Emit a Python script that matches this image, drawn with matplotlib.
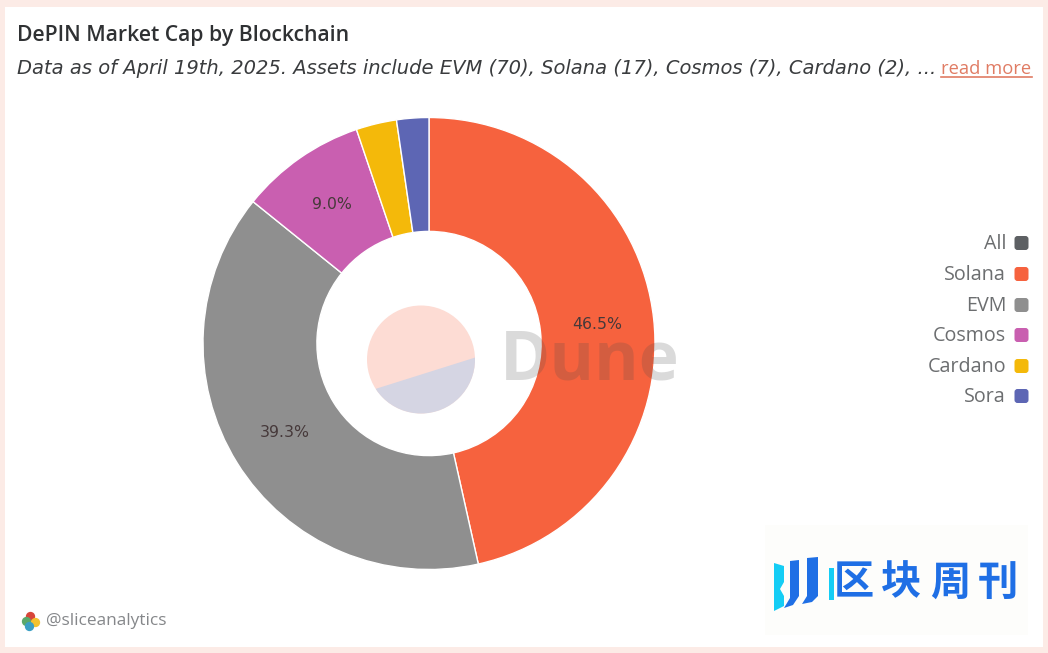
import matplotlib
matplotlib.use('Agg')
import matplotlib.pyplot as plt
from matplotlib.patches import Rectangle, FancyBboxPatch, Polygon, Circle

plt.rcParams['font.family'] = ['Open Sans', 'DejaVu Sans']

W, H = 1048, 653

# data
chains = ['Solana', 'EVM', 'Cosmos', 'Cardano', 'Sora']
shares = [46.5, 39.3, 9.0, 2.9, 2.3]
colors = ['#f6623e', '#8f8f8f', '#c95fb0', '#f4b90a', '#5d66b4']
legend_names = ['All', 'Solana', 'EVM', 'Cosmos', 'Cardano', 'Sora']
legend_colors = ['#5d6063', '#f6623e', '#8f8f8f', '#c95fb0', '#f4b90a', '#5d66b4']


def pie_axes(cx, cy, r):
    a = fig.add_axes([(cx - r) / W, 1 - (cy + r) / H, 2 * r / W, 2 * r / H])
    a.set_xlim(-1, 1)
    a.set_ylim(-1, 1)
    a.set_axis_off()
    return a


fig = plt.figure(figsize=(W / 100, H / 100), dpi=100, facecolor='white')

# page in pixel coordinates
bg = fig.add_axes([0, 0, 1, 1])
bg.set_xlim(0, W)
bg.set_ylim(H, 0)
bg.set_axis_off()
bg.add_patch(Rectangle((0, 0), W, H, fc='#fcebe6', ec='none'))
bg.add_patch(Rectangle((5, 7), W - 10, H - 13, fc='white', ec='none'))
bg.add_patch(Rectangle((765, 525), 263, 110, fc='#fdfdfb', ec='none'))

bg.text(17, 36, 'DePIN Market Cap by Blockchain', fontsize=15.2, fontweight=600,
        color='#2f3133', va='center', ha='left')
bg.text(17, 69, 'Data as of April 19th, 2025. Assets include EVM (70), Solana (17), Cosmos (7), Cardano (2), ...',
        fontsize=14.0, style='italic', color='#3a3c3e', va='center', ha='left',
        family=['DejaVu Sans'])
bg.text(941, 69, 'read more', fontsize=13.2, color='#e07c64', va='center', ha='left')
bg.plot([941, 1032], [77, 77], color='#e07c64', lw=1.2)

# donut
ax = pie_axes(429, 343.5, 226)
ax.pie(shares, colors=colors, startangle=90, counterclock=False, radius=1,
       autopct=lambda p: '%.1f%%' % p if p > 5 else '', pctdistance=0.75,
       wedgeprops=dict(width=0.504, edgecolor='white', linewidth=1),
       textprops=dict(fontsize=11.3, color='#46393a', family=['DejaVu Sans']))
ax.set_xlim(-1, 1)
ax.set_ylim(-1, 1)

# faded disc in the hole, cut by a straight line
disc = Circle((421, 359.5), 54, fc='#fddcd4', ec='none')
bg.add_patch(disc)
cut = Polygon([(480, 356), (372, 390), (372, 420), (480, 420)], closed=True, fc='#d5d5e3', ec='none')
bg.add_patch(cut)
cut.set_clip_path(disc)

# legend
top = fig.add_axes([0, 0, 1, 1], facecolor='none')
top.set_xlim(0, W)
top.set_ylim(H, 0)
top.set_axis_off()
legend_y = [244, 275, 306, 336, 367, 397]
for name, col, y in zip(legend_names, legend_colors, legend_y):
    top.text(1006, y, name, fontsize=14.2, color='#6c6e70', ha='right', va='center')
    top.add_patch(FancyBboxPatch((1016, y - 6.5), 11, 11, boxstyle='round,pad=1.5,rounding_size=3',
                                 fc=col, ec='none'))

# watermark
top.text(590, 361, 'Dune', fontsize=49, fontweight='bold', color='#4a4a4a', alpha=0.2,
         ha='center', va='center')

# footer
top.text(46, 621, '@sliceanalytics', fontsize=12.4, color='#85878a', ha='left', va='center')
for c, xy in [('#d8453a', (30, 616)), ('#5aa86a', (26, 621)), ('#f2c230', (35, 622)), ('#3a9fc4', (29, 626))]:
    top.scatter(*xy, s=45, color=c, linewidths=0)

# logo
for pts, col in [([(774, 563), (784, 566), (784, 582), (780, 589), (784, 596), (784, 606), (774, 611)], '#14cdf5'),
                 ([(790, 561), (799, 560), (799, 596), (793, 605), (784, 608), (790, 598)], '#1f6fe5'),
                 ([(807, 558), (818, 557), (818, 596), (812, 602), (802, 604), (807, 596)], '#1f6fe5'),
                 ([(829, 568), (834, 568), (834, 600), (829, 600)], '#14cdf5')]:
    top.add_patch(Polygon(pts, closed=True, fc=col, ec='none'))
for ch, x in zip('区块周刊', [854, 901, 950, 998]):
    top.text(x, 583, ch, fontsize=29, fontweight='bold', color='#1f6fe5', ha='center', va='center',
             family=['Noto Sans CJK SC', 'DejaVu Sans'])

fig.savefig('out.png', dpi=100)
